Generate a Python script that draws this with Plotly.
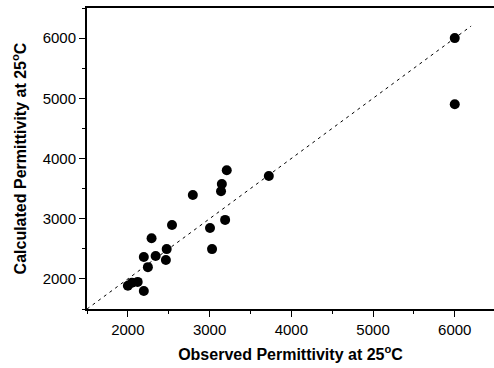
import plotly.graph_objects as go

# Observed vs calculated permittivity at 25 °C
observed = [6000, 6000, 3725, 3210, 3150, 3140, 2795, 3190, 3005, 3030, 2540,
            2290, 2475, 2465, 2340, 2195, 2245, 2000, 2050, 2120, 2195]
calculated = [6000, 4900, 3710, 3805, 3575, 3455, 3395, 2980, 2845, 2495, 2895,
              2675, 2495, 2315, 2380, 2365, 2195, 1885, 1935, 1950, 1800]

# y = x reference line extent
ref_line = [1500, 6200]

tick_vals = [2000, 3000, 4000, 5000, 6000]
x_range = [1500, 6480]
y_range = [1500, 6500]

font_fam = "Liberation Sans, Arial, sans-serif"

fig = go.Figure()
fig.add_trace(go.Scatter(
    x=ref_line, y=ref_line, mode="lines",
    line=dict(color="black", width=1, dash="3px,4px"),
    hoverinfo="skip", showlegend=False))
fig.add_trace(go.Scatter(
    x=observed, y=calculated, mode="markers",
    marker=dict(color="black", size=10, line=dict(width=0)),
    showlegend=False))

axis_common = dict(
    showgrid=False, zeroline=False, showline=True, linecolor="black",
    linewidth=2, ticks="outside", ticklen=6, tickwidth=1, tickcolor="black",
    tickvals=tick_vals, tickfont=dict(family=font_fam, size=15, color="black"),
    minor=dict(dtick=500, tick0=1500, ticks="outside", ticklen=3, tickwidth=1, tickcolor="black"),
)

fig.update_layout(
    width=494, height=368,
    margin=dict(l=87, r=0, t=8, b=59),
    paper_bgcolor="white", plot_bgcolor="white",
    font=dict(family=font_fam, color="black"),
    xaxis=dict(axis_common, range=x_range, mirror=True,
               title=dict(text="<b>Observed Permittivity at 25<sup>o</sup>C</b>",
                          font=dict(family=font_fam, size=16, color="black"), standoff=12)),
    yaxis=dict(axis_common, range=y_range, mirror=False,
               title=dict(text="<b>Calculated Permittivity at 25<sup>o</sup>C</b>",
                          font=dict(family=font_fam, size=16, color="black"), standoff=12)),
)

fig.write_html("out.html")
